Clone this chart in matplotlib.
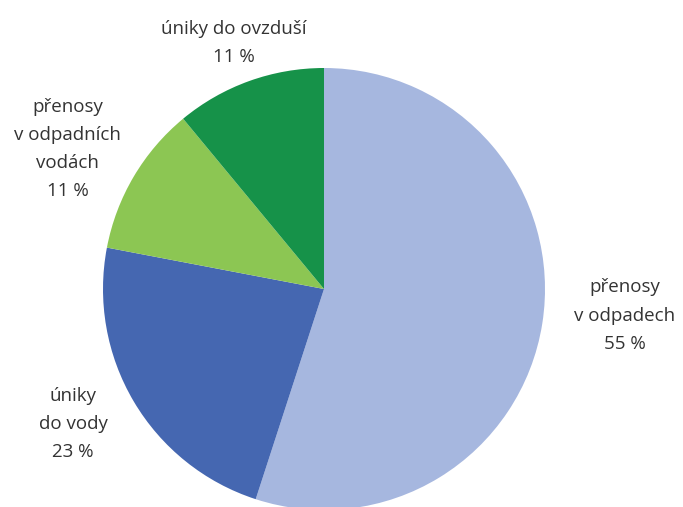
import matplotlib.pyplot as plt

# podíly jednotlivých cest úniku / přenosu
labels = ["přenosy\nv odpadech\n55 %", "úniky\ndo vody\n23 %",
          "přenosy\nv odpadních\nvodách\n11 %", "úniky do ovzduší\n11 %"]
values = [55, 23, 11, 11]
colors = ["#A6B7DF", "#4567B1", "#8CC653", "#169249"]
label_pos = [(1.36, -0.12), (-1.135, -0.61), (-1.16, 0.635), (-0.41, 1.115)]

plt.rcParams['font.family'] = ['Open Sans', 'DejaVu Sans']

fig = plt.figure(figsize=(6.83, 5.07), dpi=100)
ax = fig.add_axes([103 / 683, -3 / 507, 442 / 683, 442 / 507])
ax.pie(values, colors=colors, startangle=90, counterclock=False,
       radius=1, wedgeprops=dict(linewidth=0))
for lab, (x, y) in zip(labels, label_pos):
    ax.text(x, y, lab, ha="center", va="center", fontsize=13.5,
            color="#333333", linespacing=1.72)
ax.set_xlim(-1, 1)
ax.set_ylim(-1, 1)
ax.set_aspect("equal")
ax.axis("off")

fig.savefig("out.png", dpi=100)
